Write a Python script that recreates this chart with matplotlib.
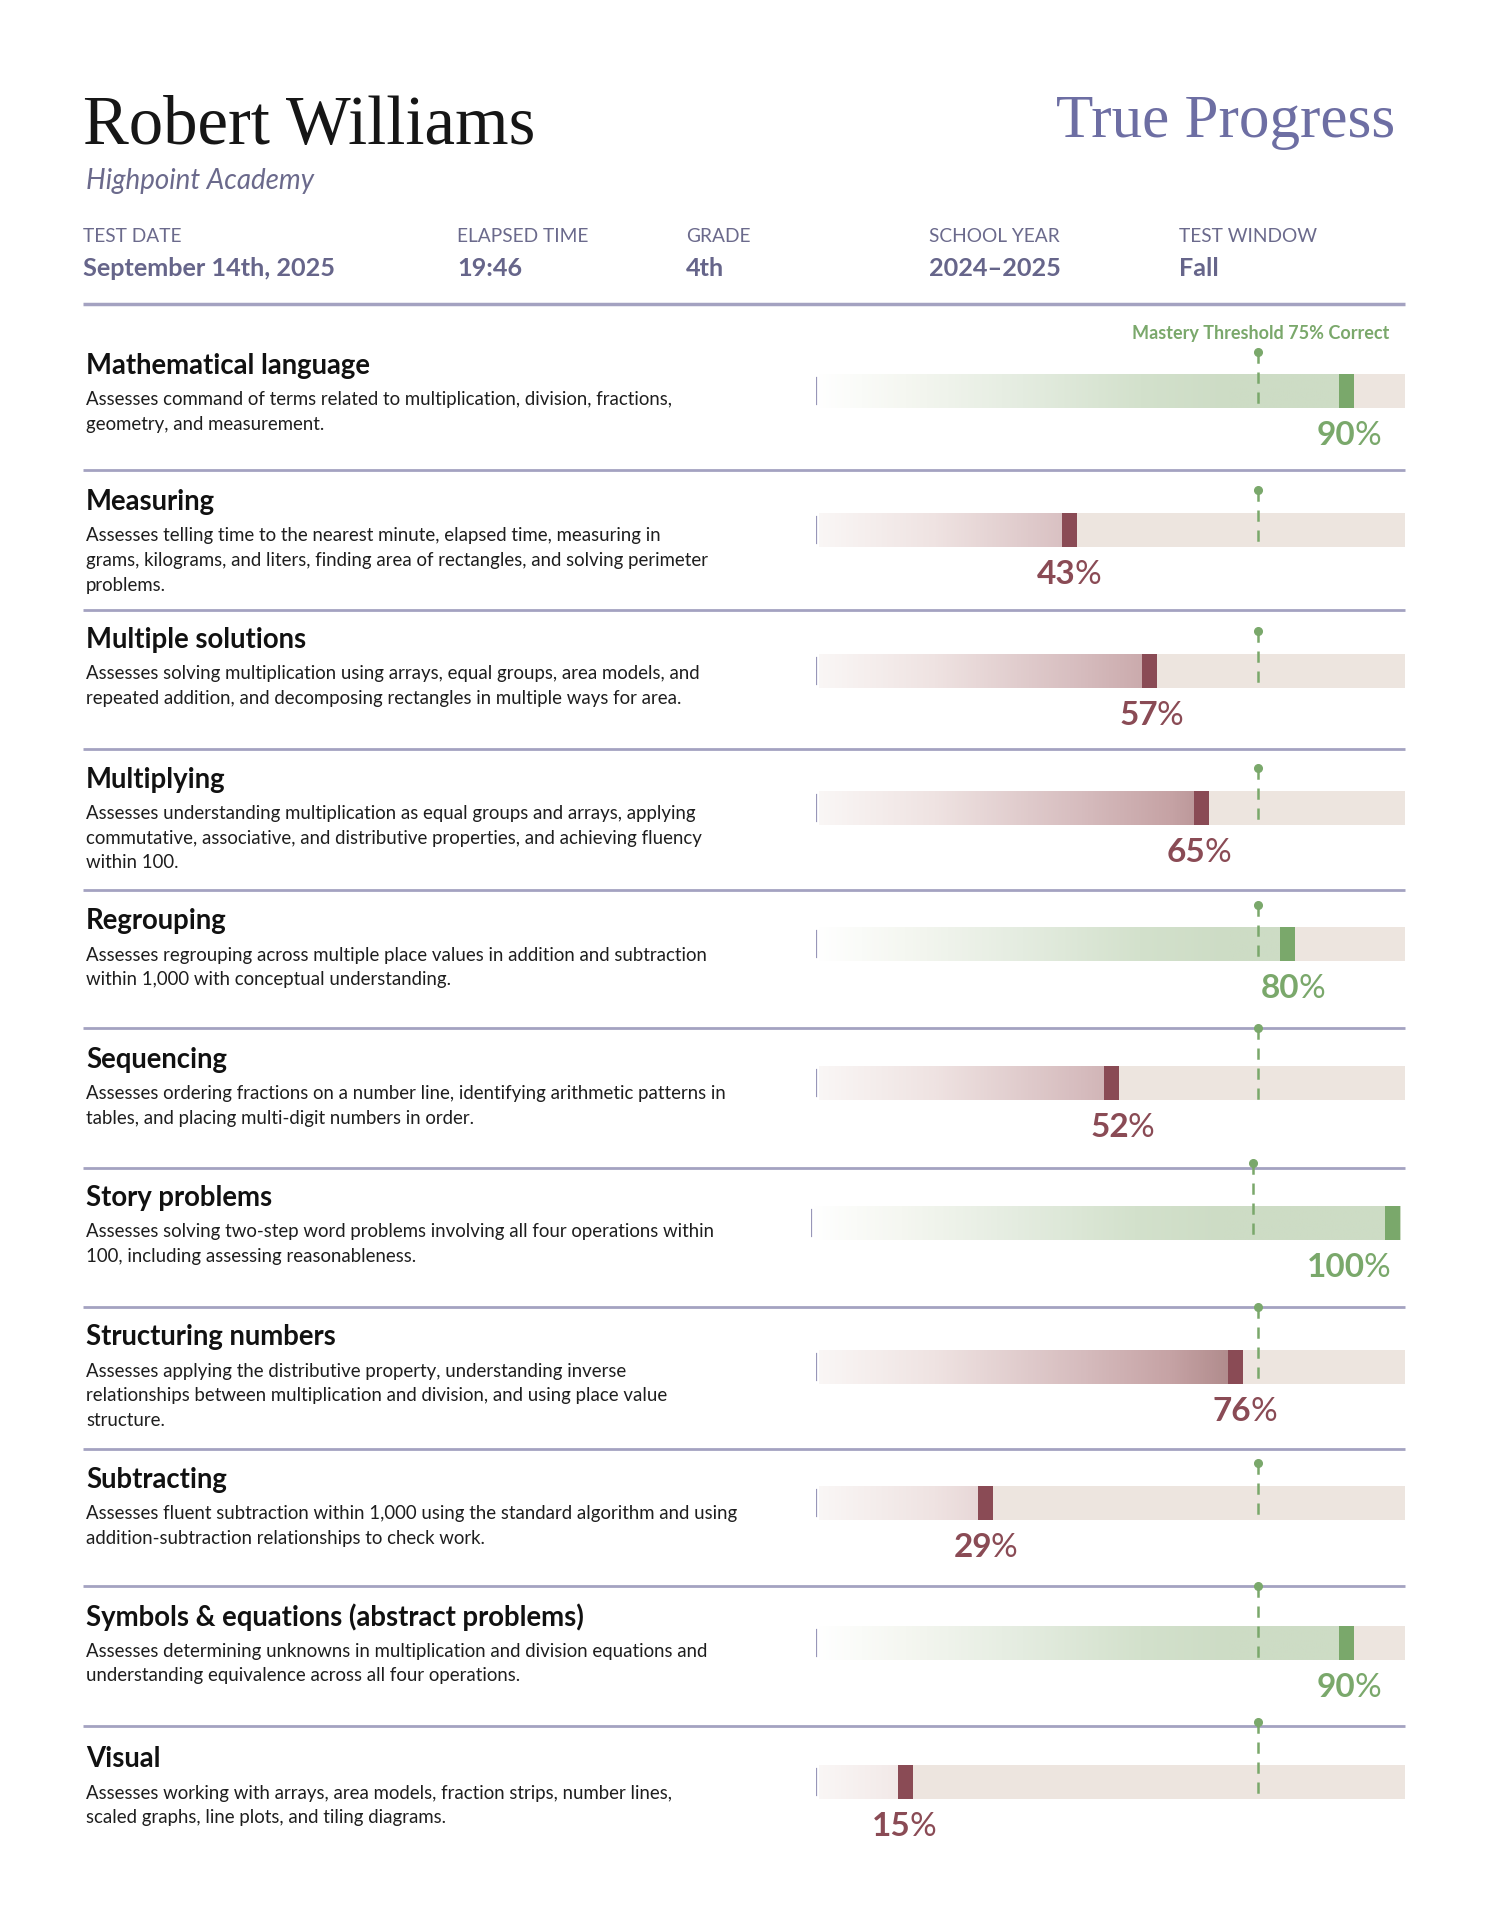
import numpy as np
import matplotlib
matplotlib.use("Agg")
import matplotlib.pyplot as plt
from matplotlib.colors import LinearSegmentedColormap
from matplotlib.offsetbox import TextArea, HPacker, AnnotationBbox

# ---- data ----
student = "Robert Williams"
school = "Highpoint Academy"
brand = "True Progress"
info_labels = ["TEST DATE", "ELAPSED TIME", "GRADE", "SCHOOL YEAR", "TEST WINDOW"]
info_values = ["September 14th, 2025", "19:46", "4th", "2024\u20132025", "Fall"]

skills = ["Mathematical language", "Measuring", "Multiple solutions", "Multiplying",
          "Regrouping", "Sequencing", "Story problems", "Structuring numbers",
          "Subtracting", "Symbols & equations (abstract problems)", "Visual"]
descriptions = [
    ["Assesses command of terms related to multiplication, division, fractions,",
     "geometry, and measurement."],
    ["Assesses telling time to the nearest minute, elapsed time, measuring in",
     "grams, kilograms, and liters, finding area of rectangles, and solving perimeter",
     "problems."],
    ["Assesses solving multiplication using arrays, equal groups, area models, and",
     "repeated addition, and decomposing rectangles in multiple ways for area."],
    ["Assesses understanding multiplication as equal groups and arrays, applying",
     "commutative, associative, and distributive properties, and achieving fluency",
     "within 100."],
    ["Assesses regrouping across multiple place values in addition and subtraction",
     "within 1,000 with conceptual understanding."],
    ["Assesses ordering fractions on a number line, identifying arithmetic patterns in",
     "tables, and placing multi-digit numbers in order."],
    ["Assesses solving two-step word problems involving all four operations within",
     "100, including assessing reasonableness."],
    ["Assesses applying the distributive property, understanding inverse",
     "relationships between multiplication and division, and using place value",
     "structure."],
    ["Assesses fluent subtraction within 1,000 using the standard algorithm and using",
     "addition-subtraction relationships to check work."],
    ["Assesses determining unknowns in multiplication and division equations and",
     "understanding equivalence across all four operations."],
    ["Assesses working with arrays, area models, fraction strips, number lines,",
     "scaled graphs, line plots, and tiling diagrams."],
]
scores = [90, 43, 57, 65, 80, 52, 100, 76, 29, 90, 15]
# where the bar marker actually sits in the report (a few differ from the label)
marker_at = [90, 43, 56.6, 65.4, 80, 50.2, 100, 71.2, 28.8, 90, 15.2]
# where the percent label is centred
label_at = [90.5, 43, 57, 65, 81, 52, 100, 72.8, 28.8, 90.5, 15]
# green = mastered, as coloured in the report
mastered = [True, False, False, False, True, False, True, False, False, True, False]
mastery = 75

# ---- layout (pixels) ----
W, H = 1486, 1920
sep_y = [304, 470, 610, 749, 890, 1028, 1168, 1307, 1449, 1586, 1726]
title_y = [366, 502, 640, 780, 921, 1060, 1198, 1337, 1480, 1617, 1759]
bar_y = [391, 530, 671, 808, 944, 1083, 1223, 1367, 1503, 1643, 1782]
dot_gap = [22, 23, 23, 23, 22, 38, 43, 43, 23, 40, 43]
x_shift = [0, 0, 0, 0, 0, 0, -5, 0, 0, 0, 0]
info_x = [83, 457, 686, 929, 1179]
BAR_X0, BAR_X1, BAR_H = 816, 1405, 34

PURPLE = "#6d6ea3"
GREY_PURPLE = "#6b6a8c"
RULE = "#a4a2c1"
GREEN = "#7aa86b"
RED = "#8a4b55"
TRACK = "#ede5df"
SANS = "Lato"

red_cmap = LinearSegmentedColormap.from_list(
    "red", [(0, "#faf7f6"), (0.2, "#efe3e2"), (0.45, "#d6bcbe"),
            (0.6, "#c6a3a5"), (0.7, "#b18c8d"), (0.8, "#a98282"), (1, "#a07878")])
green_cmap = LinearSegmentedColormap.from_list(
    "green", [(0, "#ffffff"), (0.15, "#f5f7f1"), (0.35, "#e4ece0"),
              (0.55, "#d3e1cc"), (0.7, "#cddcc5"), (1, "#cddcc5")])

fig = plt.figure(figsize=(W / 100, H / 100), dpi=100)
bg = fig.add_axes([0, 0, 1, 1])
bg.set_xlim(0, W)
bg.set_ylim(H, 0)
bg.axis("off")

# header
bg.text(83, 144, student, fontsize=49.5, family="Liberation Serif", color="#161616",
        va="baseline", ha="left")
bg.text(1395, 137, brand, fontsize=44, family="Liberation Serif", color=PURPLE,
        va="baseline", ha="right")
bg.text(86, 181, school, fontsize=20, family=SANS, style="italic", color=GREY_PURPLE,
        va="center", ha="left")
for x, lab, val in zip(info_x, info_labels, info_values):
    bg.text(x, 236, lab, fontsize=13.8, family=SANS, color=GREY_PURPLE, va="center")
    bg.text(x, 268, val, fontsize=18.2, family=SANS, weight="bold", color="#66658a",
            va="center")

bg.text(1389, 333, "Mastery Threshold 75% Correct", fontsize=13, family=SANS,
        weight="bold", color=GREEN, ha="right", va="center")

for i, sy in enumerate(sep_y):
    bg.plot([83, 1405], [sy, sy], color=RULE, lw=2.5 if i == 0 else 2,
            solid_capstyle="butt")

for i, name in enumerate(skills):
    bg.text(86, title_y[i], name, fontsize=19.8, family=SANS, weight="bold",
            color="#111111", va="center")
    for j, line in enumerate(descriptions[i]):
        bg.text(86, title_y[i] + 34 + 24.5 * j, line, fontsize=13.45, family=SANS,
                color="#1e1e1e", va="center")

    v = marker_at[i]
    ok = mastered[i]
    x0 = BAR_X0 + x_shift[i]
    ax = fig.add_axes([x0 / W, 1 - (bar_y[i] + 75) / H, (BAR_X1 - BAR_X0) / W, 150 / H])
    ax.set_xlim(0, 100)
    ax.set_ylim(75, -75)
    ax.axis("off")
    half = BAR_H / 2

    ax.barh(0, 99.5, left=0.5, height=BAR_H, color=TRACK, zorder=1)
    xs = np.linspace(0.5, v, 400)
    cmap = green_cmap if ok else red_cmap
    ax.imshow(cmap(xs / 100)[np.newaxis, :, :], extent=(0.5, v, half, -half),
              aspect="auto", interpolation="bilinear", zorder=2)
    mw = 2.55
    left = min(max(v - mw / 2, 0.5), 100 - mw)
    ax.barh(0, mw, left=left, height=BAR_H, color=GREEN if ok else RED, zorder=3)
    ax.plot([0, 0], [-13, 13], color="#9896b8", lw=1.6, zorder=4)

    top = -half - dot_gap[i]
    ax.plot([mastery, mastery], [top, half], color=GREEN, lw=1.8,
            ls=(0, (4.5, 3.5)), zorder=4, clip_on=False)
    ax.plot([mastery], [top], "o", ms=5.5, color=GREEN, zorder=5, clip_on=False)

    col = GREEN if ok else RED
    num = TextArea(str(scores[i]), textprops=dict(fontsize=24, family=SANS,
                                                  weight="bold", color=col))
    pct = TextArea("%", textprops=dict(fontsize=24, family=SANS, weight="normal",
                                       color=col))
    box = HPacker(children=[num, pct], align="baseline", pad=0, sep=-1)
    if label_at[i] > 95:
        anchor, align = (98.4, half + 28), (1, 0.5)
    else:
        anchor, align = (label_at[i], half + 28), (0.5, 0.5)
    ab = AnnotationBbox(box, anchor, xycoords="data", frameon=False,
                        box_alignment=align, pad=0, annotation_clip=False)
    ax.add_artist(ab)

fig.savefig("out.png", dpi=100, facecolor="white")
